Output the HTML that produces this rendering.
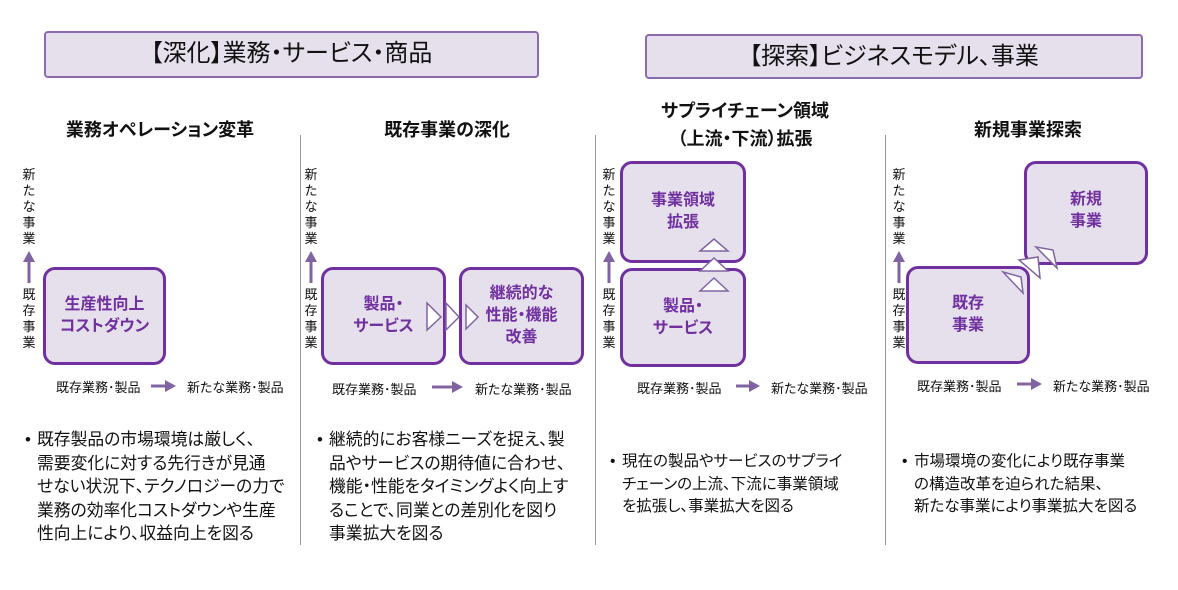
<!DOCTYPE html>
<html><head><meta charset="utf-8"><style>
body{margin:0;width:1178px;height:590px;background:#fff;position:relative;overflow:hidden;font-family:"Liberation Sans","Noto Sans CJK JP",sans-serif;color:#111;font-feature-settings:"palt"}
.hd{position:absolute;background:#e6e0ec;border:2px solid #8b6bb0;border-radius:4px;font-size:24px;text-align:center;box-sizing:border-box;white-space:nowrap}
.t{position:absolute;font-weight:bold;font-size:18px;text-align:center;white-space:nowrap}
.v{position:absolute;font-size:13px;line-height:16px;width:16px;text-align:center}
.bx{position:absolute;background:#e6e0ec;border:3px solid #7030a0;border-radius:12px;box-sizing:border-box;color:#7030a0;font-weight:bold;font-size:16px;line-height:22px;display:flex;align-items:center;justify-content:center;text-align:center}
.ax{position:absolute;font-size:13px;white-space:nowrap}
.bl{position:absolute;font-size:16.8px;line-height:23.6px;white-space:nowrap}
.bl:before{content:"•";position:absolute;left:-12px;top:0}
.dv{position:absolute;top:135px;width:1px;height:410px;background:#999}
</style></head><body>
<div class="hd" style="left:44px;top:31px;width:495px;height:47px;line-height:42px">【深化】業務・サービス・商品</div>
<div class="hd" style="left:645px;top:34px;width:498px;height:45px;line-height:41px">【探索】ビジネスモデル、事業</div>

<div class="dv" style="left:300px"></div><div class="dv" style="left:595px"></div><div class="dv" style="left:885px"></div>

<div class="t" style="left:60px;top:116px;width:200px">業務オペレーション変革</div>
<div class="t" style="left:347px;top:116px;width:200px">既存事業の深化</div>
<div class="t" style="left:640px;top:97px;width:210px;line-height:28px">サプライチェーン領域<br>（上流・下流）拡張</div>
<div class="t" style="left:928px;top:116px;width:200px">新規事業探索</div>

<svg width="1178" height="590" style="position:absolute;left:0;top:0">
<g stroke="#8064a2" stroke-width="3" fill="#8064a2">
<line x1="29" y1="283" x2="29" y2="258"/><polygon points="23,262 29,251 35,262" stroke="none"/>
<line x1="311" y1="283" x2="311" y2="258"/><polygon points="305,262 311,251 317,262" stroke="none"/>
<line x1="609" y1="283" x2="609" y2="258"/><polygon points="603,262 609,251 615,262" stroke="none"/>
<line x1="899" y1="283" x2="899" y2="258"/><polygon points="893,262 899,251 905,262" stroke="none"/>
<line x1="151" y1="386" x2="167" y2="386"/><polygon points="165,380 176,386 165,392" stroke="none"/>
<line x1="432" y1="387" x2="454" y2="387"/><polygon points="452,381 463,387 452,393" stroke="none"/>
<line x1="736" y1="386" x2="751" y2="386"/><polygon points="749,380 760,386 749,392" stroke="none"/>
<line x1="1017" y1="384" x2="1033" y2="384"/><polygon points="1031,378 1042,384 1031,390" stroke="none"/>
</g>
</svg>

<div class="v" style="left:21px;top:167px">新<br>た<br>な<br>事<br>業</div>
<div class="v" style="left:21px;top:287px">既<br>存<br>事<br>業</div>
<div class="v" style="left:303px;top:167px">新<br>た<br>な<br>事<br>業</div>
<div class="v" style="left:303px;top:287px">既<br>存<br>事<br>業</div>
<div class="v" style="left:601px;top:167px">新<br>た<br>な<br>事<br>業</div>
<div class="v" style="left:601px;top:287px">既<br>存<br>事<br>業</div>
<div class="v" style="left:891px;top:167px">新<br>た<br>な<br>事<br>業</div>
<div class="v" style="left:891px;top:287px">既<br>存<br>事<br>業</div>

<div class="bx" style="left:43px;top:267px;width:123px;height:98px">生産性向上<br>コストダウン</div>
<div class="bx" style="left:321px;top:267px;width:125px;height:98px">製品・<br>サービス</div>
<div class="bx" style="left:459px;top:267px;width:125px;height:98px">継続的な<br>性能・機能<br>改善</div>
<div class="bx" style="left:620px;top:161px;width:126px;height:102px">事業領域<br>拡張</div>
<div class="bx" style="left:620px;top:268px;width:126px;height:99px">製品・<br>サービス</div>
<div class="bx" style="left:906px;top:266px;width:124px;height:98px">既存<br>事業</div>
<div class="bx" style="left:1024px;top:161px;width:124px;height:104px;padding-bottom:4px">新規<br>事業</div>

<svg width="1178" height="590" style="position:absolute;left:0;top:0">
<g stroke="#8064a2" stroke-width="1.5" fill="#fff">
<polygon points="427,303 441,317 427,330"/><polygon points="446,303 459,317 446,330"/><polygon points="466,305 478,317 466,329"/>
<polygon points="700,251 728,251 714,239"/><polygon points="700,271 728,271 714,258"/><polygon points="700,291 728,291 714,278"/>
<polygon points="1003,272 1021,277 1023,293"/><polygon points="1019,260 1038,257 1040,278"/><polygon points="1036,247 1053,250 1057,268"/>
</g>
</svg>

<div class="ax" style="left:56px;top:377px">既存業務･製品</div>
<div class="ax" style="left:187px;top:377px">新たな業務･製品</div>
<div class="ax" style="left:332px;top:379px">既存業務･製品</div>
<div class="ax" style="left:475px;top:379px">新たな業務･製品</div>
<div class="ax" style="left:637px;top:378px">既存業務･製品</div>
<div class="ax" style="left:771px;top:378px">新たな業務･製品</div>
<div class="ax" style="left:917px;top:376px">既存業務･製品</div>
<div class="ax" style="left:1053px;top:376px">新たな業務･製品</div>

<div class="bl" style="left:37px;top:428px">既存製品の市場環境は厳しく、<br>需要変化に対する先行きが見通<br>せない状況下、テクノロジーの力で<br>業務の効率化コストダウンや生産<br>性向上により、収益向上を図る</div>
<div class="bl" style="left:329px;top:428px">継続的にお客様ニーズを捉え、製<br>品やサービスの期待値に合わせ、<br>機能・性能をタイミングよく向上す<br>ることで、同業との差別化を図り<br>事業拡大を図る</div>
<div class="bl" style="left:622px;top:451px;font-size:15.5px;line-height:22.5px">現在の製品やサービスのサプライ<br>チェーンの上流、下流に事業領域<br>を拡張し、事業拡大を図る</div>
<div class="bl" style="left:914px;top:451px;font-size:15.5px;line-height:22.5px">市場環境の変化により既存事業<br>の構造改革を迫られた結果、<br>新たな事業により事業拡大を図る</div>
</body></html>
